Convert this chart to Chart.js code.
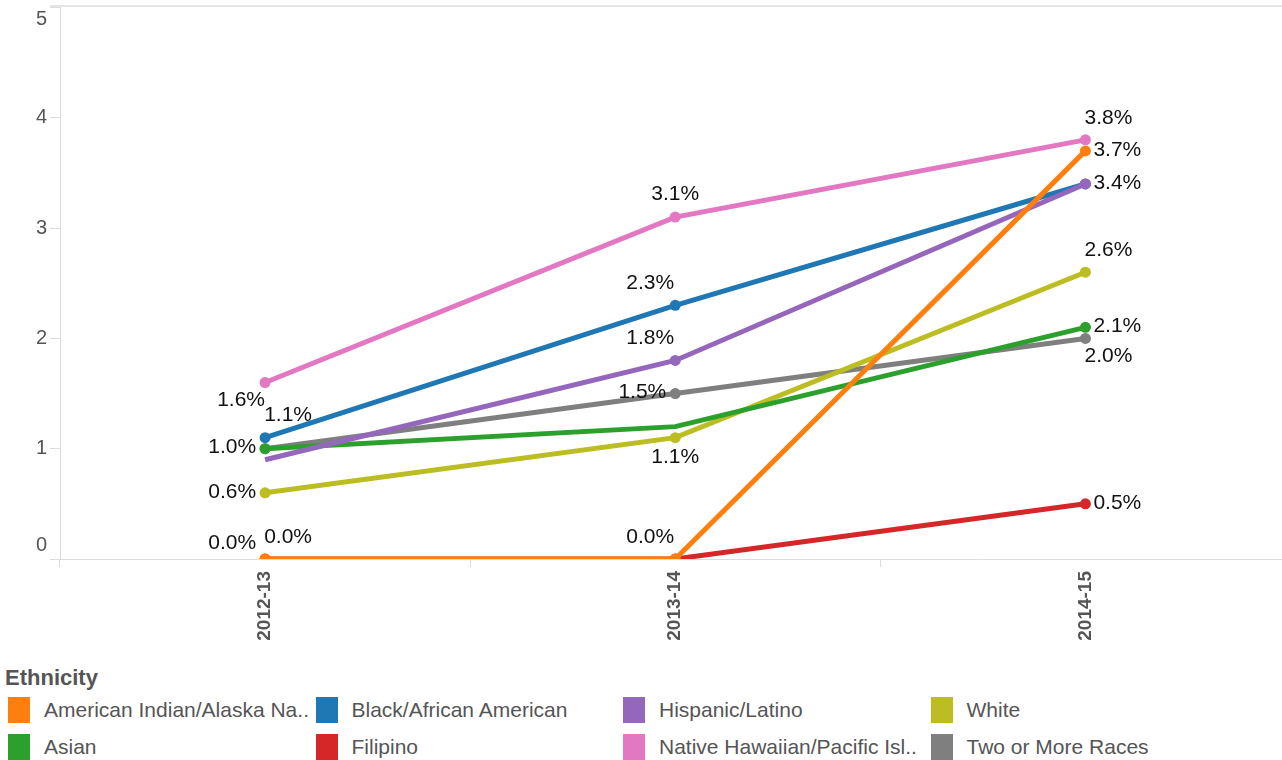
<!doctype html>
<html lang="en">
<head>
<meta charset="UTF-8" />
<title>Ethnicity</title>
<style>
  body { margin: 0; width: 1282px; height: 760px; overflow: hidden; background: #fff; font-family: "Liberation Sans", Arial, sans-serif; }
  #chart { position: absolute; left: 0; top: 0; }
  #legendTitle { position: absolute; left: 5px; top: 665px; font-size: 22px; font-weight: bold; color: #555; line-height: 26px; }
  #legend { position: absolute; left: 8px; top: 697px; display: grid; grid-template-columns: repeat(4, 307.5px); grid-auto-rows: 37px; }
  .item { display: flex; align-items: flex-start; color: #555; font-size: 21px; white-space: nowrap; }
  .sw { width: 22px; height: 26px; margin-right: 14px; flex: none; }
  .item span { line-height: 26px; }
</style>
</head>
<body>
<canvas id="chart" width="1296" height="660"></canvas>
<div id="legendTitle">Ethnicity</div>
<div id="legend"></div>

<script src="https://cdn.jsdelivr.net/npm/chart.js"></script>
<script>
  // values (percent)
  const categories = ["2012-13", "2013-14", "2014-15"];
  const americanIndian = [0.0, 0.0, 3.7];
  const black = [1.1, 2.3, 3.4];
  const hispanic = [0.9, 1.8, 3.4];
  const white = [0.6, 1.1, 2.6];
  const asian = [1.0, 1.2, 2.1];
  const filipino = [0.0, 0.0, 0.5];
  const nativeHawaiian = [1.6, 3.1, 3.8];
  const twoOrMore = [1.0, 1.5, 2.0];
  const yTicks = [0, 1, 2, 3, 4, 5];

  // legend order (two rows, four columns)
  const legendNames = [
    "American Indian/Alaska Na..", "Black/African American", "Hispanic/Latino", "White",
    "Asian", "Filipino", "Native Hawaiian/Pacific Isl..", "Two or More Races"
  ];
  const legendColors = [
    "#ff7f0e", "#1f77b4", "#9467bd", "#bcbd22",
    "#2ca02c", "#d62728", "#e377c2", "#7f7f7f"
  ];

  // where each value label sits around its point (null = hidden)
  const placeOrange = ["leftUp", "aboveLeft", "right"];
  const placeBlue = ["aboveRight", "aboveLeft", null];
  const placePurple = [null, "aboveLeft", "right"];
  const placeWhite = ["left", "below", "aboveRight"];
  const placeGreen = ["left", null, "right"];
  const placeRed = ["aboveRight", null, "right"];
  const placePink = ["belowLeft", "above", "aboveRight"];
  const placeGray = [null, "left", "belowRight"];

  const series = [
    { label: "American Indian/Alaska Native", data: americanIndian, color: "#ff7f0e", place: placeOrange, radius: [5.5, 5.5, 5.5], order: 0 },
    { label: "Hispanic/Latino", data: hispanic, color: "#9467bd", place: placePurple, radius: [0, 5.5, 5.5], order: 1 },
    { label: "Black/African American", data: black, color: "#1f77b4", place: placeBlue, radius: [5.5, 5.5, 5.5], order: 2 },
    { label: "Native Hawaiian/Pacific Islander", data: nativeHawaiian, color: "#e377c2", place: placePink, radius: [5.5, 5.5, 5.5], order: 3 },
    { label: "Asian", data: asian, color: "#2ca02c", place: placeGreen, radius: [5.5, 0, 5.5], order: 4 },
    { label: "White", data: white, color: "#bcbd22", place: placeWhite, radius: [5.5, 5.5, 5.5], order: 5 },
    { label: "Two or More Races", data: twoOrMore, color: "#7f7f7f", place: placeGray, radius: [5.5, 5.5, 5.5], order: 6 },
    { label: "Filipino", data: filipino, color: "#d62728", place: placeRed, radius: [5.5, 5.5, 5.5], order: 7 }
  ];

  const labelFont = '21px "Liberation Sans", Arial, sans-serif';

  const valueLabels = {
    id: "valueLabels",
    afterDatasetsDraw(chart) {
      const ctx = chart.ctx;
      ctx.save();
      ctx.font = labelFont;
      ctx.fillStyle = "#111";
      ctx.textBaseline = "middle";
      chart.data.datasets.forEach((ds, i) => {
        const meta = chart.getDatasetMeta(i);
        ds.place.forEach((p, j) => {
          if (!p) return;
          const pt = meta.data[j];
          const txt = ds.data[j].toFixed(1) + "%";
          let x = pt.x, y = pt.y, align = "center";
          if (p === "above") { y -= 23; }
          else if (p === "below") { y += 20; }
          else if (p === "aboveLeft") { x -= 25; y -= 22; }
          else if (p === "aboveRight") { x += 23; y -= 22; }
          else if (p === "belowLeft") { x -= 24; y += 18; }
          else if (p === "belowRight") { x += 23; y += 18; }
          else if (p === "left") { x -= 9; y -= 1; align = "right"; }
          else if (p === "leftUp") { x -= 9; y -= 16; align = "right"; }
          else if (p === "right") { x += 8; y -= 1; align = "left"; }
          ctx.textAlign = align;
          ctx.fillText(txt, x, y);
        });
      });
      ctx.restore();
    }
  };

  // y tick labels kept inside the plot band, plus the top frame line
  const axisExtras = {
    id: "axisExtras",
    afterDraw(chart) {
      const ctx = chart.ctx;
      const area = chart.chartArea;
      const ys = chart.scales.y;
      ctx.save();
      ctx.strokeStyle = "#dcdcdc";
      ctx.lineWidth = 1.5;
      ctx.beginPath();
      ctx.moveTo(area.left - 10, 6);
      ctx.lineTo(area.right, 6);
      ctx.stroke();
      ctx.font = '20px "Liberation Sans", Arial, sans-serif';
      ctx.fillStyle = "#555";
      ctx.textAlign = "right";
      ctx.textBaseline = "middle";
      yTicks.forEach(v => {
        let y = ys.getPixelForValue(v);
        y = Math.min(Math.max(y, area.top + 12), area.bottom - 14);
        ctx.fillText(String(v), area.left - 13, y);
      });
      ctx.restore();
    }
  };

  const chart = new Chart(document.getElementById("chart").getContext("2d"), {
    type: "line",
    data: {
      labels: categories,
      datasets: series.map(s => ({
        label: s.label,
        data: s.data,
        borderColor: s.color,
        backgroundColor: s.color,
        borderWidth: 5,
        pointRadius: s.radius,
        pointHoverRadius: s.radius,
        pointBorderWidth: 0,
        tension: 0,
        order: s.order,
        place: s.place,
        clip: { left: false, top: false, right: false, bottom: 0 }
      }))
    },
    options: {
      responsive: false,
      animation: false,
      layout: { padding: { top: 7.5, left: 0, right: 0, bottom: 0 } },
      plugins: { legend: { display: false }, tooltip: { enabled: false } },
      scales: {
        x: {
          type: "category",
          offset: true,
          grid: { offset: true, drawOnChartArea: false, tickLength: 8, color: "#dcdcdc" },
          border: { color: "#dcdcdc" },
          ticks: {
            minRotation: 90, maxRotation: 90, padding: 4,
            color: "#555",
            font: { family: '"Liberation Sans", Arial, sans-serif', size: 19, weight: "bold" }
          },
          afterFit(s) { s.height = 101; }
        },
        y: {
          min: 0, max: 5,
          ticks: { stepSize: 1, display: false },
          grid: { drawOnChartArea: false, tickLength: 10, color: "#dcdcdc" },
          border: { color: "#dcdcdc" },
          afterFit(s) { s.width = 60; }
        }
      }
    },
    plugins: [valueLabels, axisExtras]
  });

  const legend = document.getElementById("legend");
  legendNames.forEach((name, i) => {
    const item = document.createElement("div");
    item.className = "item";
    item.innerHTML = '<div class="sw" style="background:' + legendColors[i] + '"></div><span>' + name + "</span>";
    legend.appendChild(item);
  });
</script>
</body>
</html>
